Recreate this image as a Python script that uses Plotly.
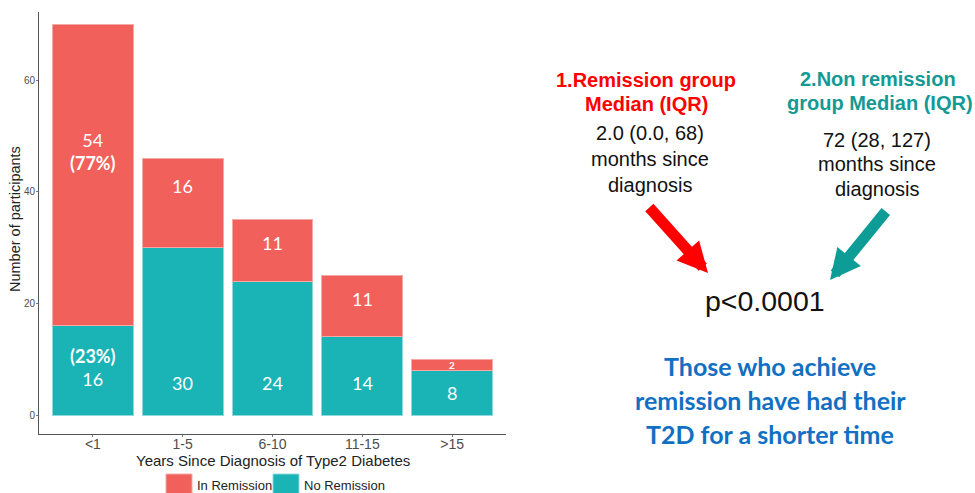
import plotly.graph_objects as go

categories = ["<1", "1-5", "6-10", "11-15", ">15"]
no_remission = [16, 30, 24, 14, 8]
in_remission = [54, 16, 11, 11, 2]
y_ticks = [0, 20, 40, 60]

# label text and placement (data units)
rem_labels = ["54<br><b>(77%)</b>", "16", "11", "11", "<b>2</b>"]
rem_label_y = [47.2, 41.1, 30.9, 20.8, 9.0]
rem_label_size = [18, 18, 18, 18, 10]
nor_labels = ["<b>(23%)</b><br>16", "30", "24", "14", "8"]
nor_label_y = [8.5, 5.7, 5.7, 5.7, 3.9]

RED = "#F2605C"
TEAL = "#1AB3B6"

fig = go.Figure()
fig.add_bar(x=categories, y=no_remission, name="No Remission", marker_color=TEAL,
            marker_line=dict(color="#8EDADB", width=1), width=0.9, showlegend=False)
fig.add_bar(x=categories, y=in_remission, name="In Remission", marker_color=RED,
            marker_line=dict(color="#F7A9A6", width=1), width=0.9, showlegend=False)

ann = []
for c, t, y, s in zip(categories, rem_labels, rem_label_y, rem_label_size):
    ann.append(dict(x=c, y=y, text=t, showarrow=False, xref="x", yref="y",
                    font=dict(color="white", size=s, family="Lato"), align="center"))
for c, t, y in zip(categories, nor_labels, nor_label_y):
    ann.append(dict(x=c, y=y, text=t, showarrow=False, xref="x", yref="y",
                    font=dict(color="white", size=18, family="Lato"), align="center"))

W, H = 975, 493
L, T, B = 39, 12, 59
PW = W - L
PH = H - T - B


def px(x):
    return (x - L) / PW


def py(y):
    return (H - B - y) / PH


def txt(x, y, text, color, size, bold=False, family="Liberation Sans", xanchor="center", angle=0):
    ann.append(dict(x=px(x), y=py(y), xref="paper", yref="paper", showarrow=False,
                    text=(f"<b>{text}</b>" if bold else text), xanchor=xanchor, yanchor="middle",
                    textangle=angle, font=dict(color=color, size=size, family=family)))


txt(646, 80, "1.Remission group", "#FF0000", 20, True)
txt(646, 104, "Median (IQR)", "#FF0000", 20, True)
txt(650, 133, "2.0 (0.0, 68)", "#111111", 20)
txt(650, 159, "months since", "#111111", 20)
txt(650, 185, "diagnosis", "#111111", 20)

txt(878, 79, "2.Non remission", "#139A94", 20, True)
txt(880, 103, "group Median (IQR)", "#139A94", 20, True)
txt(877, 140, "72 (28, 127)", "#111111", 20)
txt(877, 164, "months since", "#111111", 20)
txt(877, 189, "diagnosis", "#111111", 20)

txt(765, 301, "p<0.0001", "#111111", 28.5)

txt(770, 366, "Those who achieve", "#1270C2", 25, True, "Lato")
txt(770, 400, "remission have had their", "#1270C2", 25, True, "Lato")
txt(770, 434, "T2D for a shorter time", "#1270C2", 25, True, "Lato")

# axis titles
txt(273, 460, "Years Since Diagnosis of Type2 Diabetes", "#222222", 15)
txt(15, 219, "Number of participants", "#222222", 14.5, angle=-90)

# legend (drawn manually to match key size)
shapes = [
    dict(type="rect", xref="paper", yref="paper", x0=px(166), x1=px(192), y0=py(494), y1=py(474),
         fillcolor=RED, line=dict(color="#F7A9A6", width=1)),
    dict(type="rect", xref="paper", yref="paper", x0=px(273), x1=px(299), y0=py(494), y1=py(474),
         fillcolor=TEAL, line=dict(color="#8EDADB", width=1)),
]
txt(195, 485, "In Remission", "#222222", 13, xanchor="left")
txt(302, 485, "No Remission", "#222222", 13, xanchor="left")

# arrows
ann.append(dict(x=px(708), y=py(273), xref="paper", yref="paper", ax=648 - 708, ay=206 - 273,
                showarrow=True, arrowhead=2, arrowsize=0.55,
                arrowwidth=11, arrowcolor="#FF0000", text=""))
ann.append(dict(x=px(830), y=py(280), xref="paper", yref="paper", ax=887 - 830, ay=210 - 280,
                showarrow=True, arrowhead=2, arrowsize=0.55,
                arrowwidth=11, arrowcolor="#0E9C96", text=""))

fig.update_layout(
    barmode="stack",
    width=W, height=H,
    margin=dict(l=L, r=0, t=T, b=B),
    plot_bgcolor="white", paper_bgcolor="white",
    font=dict(family="Liberation Sans", color="#222222"),
    annotations=ann,
    shapes=shapes,
    bargap=0.1,
    showlegend=False,
    xaxis=dict(domain=[0, px(506)], range=[-0.6, 4.6], showline=True, linecolor="#555555",
               linewidth=1, ticks="outside", ticklen=2, tickcolor="#777777",
               tickfont=dict(size=14, color="#4D4D4D"), automargin=False,
               ticklabelstandoff=-5,
               showgrid=False, zeroline=False),
    yaxis=dict(range=[-3.4, 72.2], tickvals=y_ticks, showline=True, linecolor="#555555",
               linewidth=1, ticks="outside", ticklen=2, tickcolor="#777777",
               tickfont=dict(size=10, color="#4D4D4D"), automargin=False,
               ticklabelstandoff=-1,
               showgrid=False, zeroline=False),
)

fig.write_html("out.html", post_script="document.body.style.margin='0';",
               config={"displayModeBar": False})
